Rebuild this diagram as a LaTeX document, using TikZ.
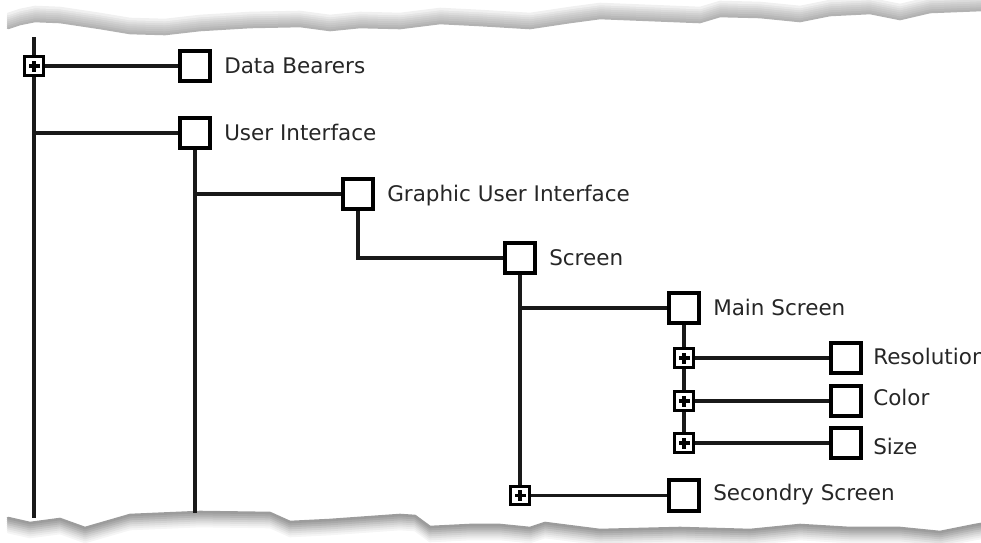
\documentclass[tikz,border=0pt]{standalone}
\usepackage{fontspec}
\setmainfont{DejaVu Sans}
\begin{document}
\begin{tikzpicture}[x=1pt,y=-1pt,
  sq/.style={draw, line width=3.6pt, minimum size=30.5pt, inner sep=0pt, fill=white},
  pl/.style={draw, line width=3.4pt, minimum size=18.5pt, inner sep=0pt, fill=white,
    path picture={\fill[black] (path picture bounding box.center) +(-5.5pt,-1.7pt) rectangle +(5.5pt,1.7pt);
                  \fill[black] (path picture bounding box.center) +(-1.7pt,-5.5pt) rectangle +(1.7pt,5.5pt);}},
  lbl/.style={anchor=base west, inner sep=0pt, text=black!85, font=\fontsize{21.5}{25}\selectfont},
  conn/.style={line width=3.2pt, black!90},
  tear/.style={line width=2.6pt, line join=round, line cap=round}]
\useasboundingbox (0,0) rectangle (981,542);
\clip (0,0) rectangle (981,542);

% torn paper edges
\def\topedge{(8,28) -- (20,24) -- (35,21) -- (60,22) -- (100,28) -- (130,33) -- (165,34) -- (200,30) -- (250,27) -- (300,26) -- (330,30) -- (360,27) -- (400,28) -- (440,23) -- (480,25) -- (530,28) -- (570,22) -- (600,18) -- (650,20) -- (700,22) -- (720,16) -- (760,17) -- (800,21) -- (830,15) -- (870,13) -- (900,19) -- (930,12) -- (981,10)}
\foreach \i/\c in {0/60,1/55,2/48,3/42,4/36,5/28,6/20,7/12} {
  \draw[tear, gray!\c, yshift=\i*2pt] \topedge;
}
\def\botedge{(8,518) -- (30,523) -- (60,519) -- (85,528) -- (130,515) -- (200,512) -- (270,513) -- (290,522) -- (330,520) -- (400,515) -- (415,516) -- (430,527) -- (470,525) -- (500,525) -- (530,528) -- (545,523) -- (600,530) -- (680,528) -- (750,530) -- (800,525) -- (850,528) -- (900,528) -- (940,532) -- (975,525) -- (981,524)}
\foreach \i/\c in {7/8,6/16,5/25,4/35,3/46,2/58,1/68,0/78} {
  \draw[tear, gray!\c, yshift=-\i*2pt] \botedge;
}

% nodes
\node[pl] (p0) at (34,66) {};
\node[sq] (db) at (195,66) {};
\node[sq] (ui) at (195,133) {};
\node[sq] (gui) at (358,194) {};
\node[sq] (scr) at (520,258) {};
\node[sq] (ms) at (684,308) {};
\node[pl] (p1) at (684,358) {};
\node[sq] (res) at (846,358) {};
\node[pl] (p2) at (684,401) {};
\node[sq] (col) at (846,401) {};
\node[pl] (p3) at (684,443) {};
\node[sq] (siz) at (846,443) {};
\node[pl] (p4) at (520,495.5) {};
\node[sq] (ss) at (684,495.5) {};
\coordinate (top) at (34,37);
\coordinate (bot) at (34,518);
\coordinate (uibot) at (195,513);

% labels
\node[lbl] (tdb) at ([xshift=12pt,yshift=-7.5pt]db.east) {Data Bearers};
\node[lbl] (tui) at ([xshift=12pt,yshift=-7.5pt]ui.east) {User Interface};
\node[lbl] (tgui) at ([xshift=12pt,yshift=-7.5pt]gui.east) {Graphic User Interface};
\node[lbl] (tscr) at ([xshift=12pt,yshift=-7.5pt]scr.east) {Screen};
\node[lbl] (tms) at ([xshift=12pt,yshift=-7.5pt]ms.east) {Main Screen};
\node[lbl] (tres) at ([xshift=10pt,yshift=-6.5pt]res.east) {Resolution};
\node[lbl] (tcol) at ([xshift=10pt,yshift=-4.5pt]col.east) {Color};
\node[lbl] (tsiz) at ([xshift=10pt,yshift=-11.5pt]siz.east) {Size};
\node[lbl] (tss) at ([xshift=12pt,yshift=-4.5pt]ss.east) {Secondry Screen};

% connectors
\draw[conn] (top) -- (p0.north);
\draw[conn] (p0.south) -- (bot);
\draw[conn] (p0.east) -- (db.west);
\draw[conn] (ui.west) -- (ui.west -| p0.center);
\draw[conn] (ui.south) -- (uibot);
\draw[conn] (gui.west) -- (gui.west -| ui.south);
\draw[conn] (gui.south) |- (scr.west);
\draw[conn] (scr.south) -- (p4.north);
\draw[conn] (ms.west) -- (ms.west -| scr.south);
\draw[conn] (p4.east) -- (ss.west);
\draw[conn] (ms.south) -- (p1.north);
\draw[conn] (p1.south) -- (p2.north);
\draw[conn] (p2.south) -- (p3.north);
\draw[conn] (p1.east) -- (res.west);
\draw[conn] (p2.east) -- (col.west);
\draw[conn] (p3.east) -- (siz.west);
\end{tikzpicture}
\end{document}
